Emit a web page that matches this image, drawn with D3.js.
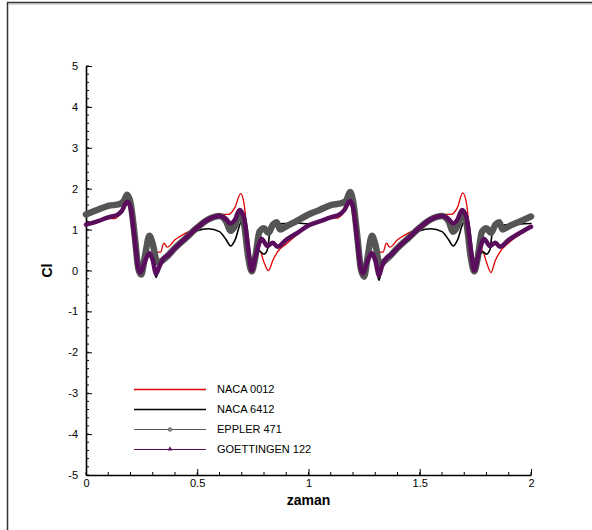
<!DOCTYPE html>
<html>
<head>
<meta charset="utf-8">
<script src="https://cdn.jsdelivr.net/npm/d3@7"></script>
<style>
  html, body { margin: 0; padding: 0; background: #fff; }
  svg { display: block; }
  text { font-family: "Liberation Sans", Arial, Helvetica, sans-serif; }
</style>
</head>
<body>
<svg id="chart" width="592" height="530"></svg>
<script>
// Lift coefficient histories over two cycles for four airfoil sections
const naca0012T = [0, 0.05, 0.1, 0.13, 0.15, 0.17, 0.185, 0.2, 0.22, 0.24, 0.26, 0.28, 0.3, 0.32, 0.335, 0.35, 0.365, 0.4, 0.45, 0.5, 0.55, 0.6, 0.64, 0.67, 0.695, 0.71, 0.73, 0.745, 0.76, 0.78, 0.8, 0.82, 0.84, 0.86, 0.9, 0.95,
  1.0, 1.05, 1.1, 1.13, 1.15, 1.17, 1.187, 1.2, 1.22, 1.245, 1.26, 1.28, 1.3, 1.32, 1.335, 1.35, 1.365, 1.4, 1.45, 1.5, 1.55, 1.6, 1.64, 1.67, 1.693, 1.71, 1.73, 1.745, 1.76, 1.78, 1.8, 1.82, 1.84, 1.86, 1.9, 1.95, 2.0];
const naca0012Cl = [1.1, 1.18, 1.27, 1.27, 1.35, 1.5, 1.65, 1.5, 0.6, -0.05, 0.2, 0.7, 0.55, 0.45, 0.45, 0.67, 0.57, 0.75, 0.92, 1.05, 1.25, 1.37, 1.37, 1.55, 1.88, 1.65, 0.6, 0.0, 0.35, 0.5, 0.2, 0.0, 0.25, 0.45, 0.65, 0.88,
  1.08, 1.18, 1.28, 1.28, 1.36, 1.52, 1.68, 1.5, 0.6, -0.08, 0.2, 0.72, 0.55, 0.45, 0.45, 0.67, 0.57, 0.75, 0.92, 1.05, 1.25, 1.37, 1.37, 1.55, 1.9, 1.65, 0.6, 0.0, 0.35, 0.5, 0.2, -0.05, 0.25, 0.45, 0.68, 0.88, 1.07];

const naca6412T = [0, 0.05, 0.1, 0.14, 0.16, 0.185, 0.2, 0.22, 0.24, 0.26, 0.285, 0.3, 0.315, 0.33, 0.35, 0.4, 0.45, 0.48, 0.5, 0.55, 0.6, 0.63, 0.65, 0.67, 0.7, 0.715, 0.73, 0.745, 0.76, 0.78, 0.8, 0.815, 0.83, 0.86, 0.9, 0.95,
  1.0, 1.05, 1.1, 1.14, 1.16, 1.187, 1.2, 1.22, 1.245, 1.26, 1.285, 1.3, 1.317, 1.33, 1.35, 1.4, 1.45, 1.48, 1.5, 1.55, 1.6, 1.63, 1.65, 1.67, 1.7, 1.715, 1.73, 1.745, 1.76, 1.785, 1.8, 1.815, 1.83, 1.86, 1.9, 1.95, 2.0];
const naca6412Cl = [1.12, 1.2, 1.3, 1.36, 1.45, 1.66, 1.5, 0.6, -0.05, 0.15, 0.42, 0.2, -0.17, 0.1, 0.3, 0.55, 0.8, 0.92, 0.97, 1.02, 0.95, 0.75, 0.6, 0.75, 1.2, 0.9, 0.4, 0.0, 0.3, 0.47, 0.4, 0.5, 1.05, 1.13, 1.15, 1.16,
  1.14, 1.2, 1.3, 1.37, 1.47, 1.68, 1.5, 0.6, -0.08, 0.15, 0.42, 0.2, -0.24, 0.1, 0.3, 0.55, 0.8, 0.92, 0.97, 1.02, 0.95, 0.75, 0.6, 0.75, 1.2, 0.9, 0.4, 0.0, 0.3, 0.45, 0.4, 0.5, 1.05, 1.1, 1.12, 1.14, 1.15];

const eppler471T = [0, 0.05, 0.1, 0.15, 0.17, 0.185, 0.2, 0.22, 0.235, 0.248, 0.265, 0.285, 0.3, 0.32, 0.335, 0.36, 0.4, 0.45, 0.5, 0.55, 0.6, 0.63, 0.65, 0.67, 0.69, 0.71, 0.73, 0.745, 0.76, 0.78, 0.8, 0.82, 0.84, 0.857, 0.872, 0.9, 0.95,
  1.0, 1.05, 1.1, 1.15, 1.17, 1.187, 1.2, 1.22, 1.235, 1.25, 1.265, 1.285, 1.3, 1.32, 1.335, 1.36, 1.4, 1.45, 1.5, 1.55, 1.6, 1.63, 1.65, 1.67, 1.69, 1.71, 1.73, 1.745, 1.76, 1.78, 1.8, 1.82, 1.84, 1.857, 1.872, 1.9, 1.95, 2.0];
const eppler471Cl = [1.37, 1.48, 1.58, 1.62, 1.7, 1.85, 1.65, 0.8, 0.05, -0.1, 0.35, 0.85, 0.65, 0.2, 0.22, 0.32, 0.55, 0.8, 1.05, 1.25, 1.33, 1.2, 0.97, 1.1, 1.4, 1.15, 0.3, -0.02, 0.3, 0.95, 1.03, 0.92, 1.12, 1.18, 1.0, 1.08, 1.22,
  1.37, 1.48, 1.6, 1.65, 1.72, 1.92, 1.7, 0.8, 0.05, -0.15, 0.3, 0.85, 0.65, 0.15, 0.2, 0.32, 0.55, 0.8, 1.05, 1.25, 1.33, 1.2, 0.95, 1.1, 1.4, 1.15, 0.3, -0.02, 0.3, 0.95, 1.03, 0.92, 1.12, 1.18, 1.0, 1.08, 1.2, 1.32];

const goettingen122T = [0, 0.05, 0.1, 0.14, 0.16, 0.185, 0.2, 0.22, 0.235, 0.245, 0.26, 0.285, 0.3, 0.315, 0.33, 0.35, 0.37, 0.4, 0.45, 0.5, 0.55, 0.6, 0.63, 0.65, 0.67, 0.69, 0.71, 0.73, 0.745, 0.76, 0.79, 0.815, 0.84, 0.86, 0.9, 0.95,
  1.0, 1.05, 1.1, 1.14, 1.16, 1.187, 1.2, 1.22, 1.235, 1.245, 1.26, 1.285, 1.3, 1.317, 1.33, 1.35, 1.37, 1.4, 1.45, 1.5, 1.55, 1.6, 1.63, 1.65, 1.67, 1.69, 1.71, 1.73, 1.745, 1.76, 1.79, 1.815, 1.84, 1.86, 1.9, 1.95, 2.0];
const goettingen122Cl = [1.12, 1.2, 1.3, 1.36, 1.45, 1.68, 1.55, 0.7, 0.05, -0.05, 0.15, 0.42, 0.25, -0.08, 0.1, 0.3, 0.38, 0.55, 0.8, 1.05, 1.25, 1.33, 1.25, 1.15, 1.25, 1.48, 1.3, 0.5, 0.0, 0.3, 0.77, 0.6, 0.68, 0.58, 0.75, 0.92,
  1.1, 1.2, 1.3, 1.37, 1.47, 1.7, 1.55, 0.7, 0.05, -0.07, 0.15, 0.42, 0.25, -0.12, 0.1, 0.3, 0.38, 0.55, 0.8, 1.05, 1.25, 1.33, 1.25, 1.15, 1.25, 1.48, 1.3, 0.5, 0.0, 0.3, 0.77, 0.6, 0.68, 0.58, 0.75, 0.92, 1.07];

const seriesNames = ["NACA 0012", "NACA 6412", "EPPLER 471", "GOETTINGEN 122"];
const xTickLabels = ["0", "0.5", "1", "1.5", "2"];
const yTickLabels = ["-5", "-4", "-3", "-2", "-1", "0", "1", "2", "3", "4", "5"];

const series = [
  { name: seriesNames[0], t: naca0012T, cl: naca0012Cl, color: "#e00000", width: 1.3, legendWidth: 1.3, marker: null },
  { name: seriesNames[1], t: naca6412T, cl: naca6412Cl, color: "#000000", width: 1.6, legendWidth: 1.5, marker: null },
  { name: seriesNames[2], t: eppler471T, cl: eppler471Cl, color: "#555555", width: 6.5, legendWidth: 1, marker: "circle" },
  { name: seriesNames[3], t: goettingen122T, cl: goettingen122Cl, color: "#5a0d5c", width: 4.5, legendWidth: 1, marker: "triangle" }
];

const svg = d3.select("#chart");

// outer frame (top and left edges)
svg.append("path")
  .attr("d", "M7.5,530 L7.5,2.5 L592,2.5")
  .attr("fill", "none").attr("stroke", "#333").attr("stroke-width", 1.5);
svg.append("line").attr("x1", 8).attr("x2", 592).attr("y1", 4).attr("y2", 4)
  .attr("stroke", "#aaa").attr("stroke-width", 1);

const x = d3.scaleLinear().domain([0, 2]).range([86, 531]);
const y = d3.scaleLinear().domain([-5, 5]).range([475, 66]);

// minor ticks
const g = svg.append("g");
g.selectAll(".xminor").data(d3.range(0, 2.0001, 0.1)).join("line")
  .attr("x1", d => x(d)).attr("x2", d => x(d))
  .attr("y1", y(-5)).attr("y2", y(-5) - 3)
  .attr("stroke", "#000").attr("stroke-width", 1);
g.selectAll(".yminor").data(d3.range(-5, 5.0001, 0.2)).join("line")
  .attr("x1", x(0)).attr("x2", x(0) + 3)
  .attr("y1", d => y(d)).attr("y2", d => y(d))
  .attr("stroke", "#000").attr("stroke-width", 1);

// major ticks via d3 axes, pointing into the plot
const xAxis = d3.axisBottom(x).tickValues(xTickLabels.map(Number))
  .tickFormat(d => xTickLabels[xTickLabels.map(Number).indexOf(d)])
  .tickSizeInner(-6).tickSizeOuter(0).tickPadding(4);
const yAxis = d3.axisLeft(y).tickValues(yTickLabels.map(Number))
  .tickFormat(d => yTickLabels[yTickLabels.map(Number).indexOf(d)])
  .tickSizeInner(-6).tickSizeOuter(0).tickPadding(8);

const gx = svg.append("g").attr("transform", `translate(0,${y(-5)})`).call(xAxis);
const gy = svg.append("g").attr("transform", `translate(${x(0)},0)`).call(yAxis);
[gx, gy].forEach(a => {
  a.select(".domain").attr("stroke", "#000").attr("stroke-width", 1.6);
  a.selectAll(".tick line").attr("stroke", "#000").attr("stroke-width", 1);
  a.selectAll(".tick text").attr("font-size", 11).attr("fill", "#000")
    .attr("font-family", "Liberation Sans, Arial, sans-serif");
});

// axis titles
svg.append("text").attr("x", x(1)).attr("y", 505).attr("text-anchor", "middle")
  .attr("font-size", 14).attr("font-weight", "bold").text("zaman");
svg.append("text").attr("transform", `translate(52,${y(0)}) rotate(-90)`)
  .attr("text-anchor", "middle").attr("font-size", 14).attr("font-weight", "bold").text("Cl");

// curves
const line = d3.line().x(d => x(d[0])).y(d => y(d[1])).curve(d3.curveMonotoneX);
const plot = svg.append("g");
series.forEach(s => {
  plot.append("path")
    .datum(s.t.map((t, i) => [t, s.cl[i]]))
    .attr("d", line)
    .attr("fill", "none")
    .attr("stroke", s.color)
    .attr("stroke-width", s.width)
    .attr("stroke-linejoin", "round")
    .attr("stroke-linecap", "round");
});

// legend
const legend = svg.append("g");
const legendRowY = [389.5, 409.5, 429.5, 449.5];
series.forEach((s, i) => {
  const ly = legendRowY[i];
  legend.append("line").attr("x1", 134).attr("x2", 206).attr("y1", ly).attr("y2", ly)
    .attr("stroke", s.color).attr("stroke-width", s.legendWidth);
  if (s.marker === "circle") {
    legend.append("circle").attr("cx", 170).attr("cy", ly).attr("r", 1.8)
      .attr("fill", "#999").attr("stroke", s.color).attr("stroke-width", 0.8);
  } else if (s.marker === "triangle") {
    legend.append("path").attr("d", d3.symbol(d3.symbolTriangle, 10)())
      .attr("transform", `translate(170,${ly - 0.5})`).attr("fill", s.color);
  }
  legend.append("text").attr("x", 217).attr("y", ly + 3.5)
    .attr("font-size", 11).attr("fill", "#000").text(s.name);
});
</script>
</body>
</html>
